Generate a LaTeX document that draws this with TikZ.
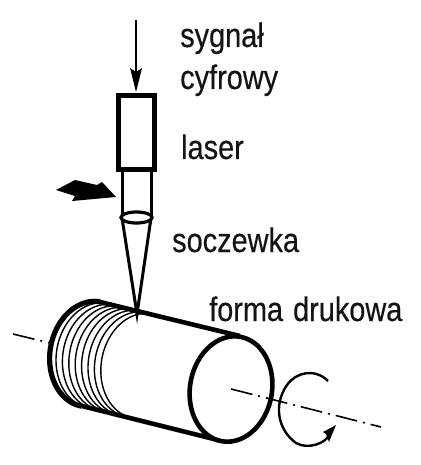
\documentclass[tikz,border=0pt]{standalone}
\usetikzlibrary{shapes.geometric}
\usepackage{fontspec}
\setmainfont[FakeStretch=0.85,FakeBold=0.35]{Liberation Sans}
\tikzset{
 lab/.style={anchor=base west,inner sep=0pt,font=\fontsize{34}{34}\selectfont,text=black!92},
 outline/.style={line width=4.6pt,draw=black},
 axisline/.style={line width=1.6pt,dash pattern=on 22pt off 6pt on 2pt off 6pt},
 endcap/.style={shift={(#1)},rotate=-10},
}
\begin{document}
\begin{tikzpicture}[x=1pt,y=-1pt]
\useasboundingbox (0,0) rectangle (420,465);
\fill[white] (0,0) rectangle (420,465);
% labels
\node[lab] (sig1) at (180,47) {sygnał};
\node[lab] (sig2) at (180,89) {cyfrowy};
\node[lab] (las) at (181,159) {laser};
\node[lab] (soc) at (172,252) {soczewka};
\node[lab] (frm) at (209,321) {forma\hspace{2pt} drukowa};
% laser
\node[draw=black,line width=5pt,minimum width=36.5pt,minimum height=74.5pt,inner sep=0pt] (laserbox) at (136.5,132.5) {};
\coordinate (sigtop) at (136,20);
\draw[line width=2.6pt] (sigtop) -- (136,75);
\fill (136,92) -- (130,68) -- (136,72) -- (142,68) -- cycle;
% tube
\coordinate (tl) at (122,172); \coordinate (tr) at (151,172);
\coordinate (ll) at (122,218); \coordinate (lr) at (151,218);
\coordinate (apex) at (137,314);
\draw[line width=3pt] (tl) -- (ll) (tr) -- (lr);
\draw[line width=3pt] (ll) -- (apex) -- (lr);
\node[draw=black,fill=white,ellipse,line width=3.2pt,minimum width=31pt,minimum height=11pt,inner sep=0pt] (lens) at (136.5,217.5) {};
% block arrow
\fill (56,190) -- (75,180) -- (97,185) -- (102,182) -- (116,197) -- (72,201) -- (75,196) -- cycle;
% axis
\coordinate (axA) at (13,334); \coordinate (axB) at (50,343);
\coordinate (axC) at (231,389); \coordinate (axD) at (381,427);
\draw[axisline] (axA) -- (axB);
% cylinder
\foreach \k in {1,...,8}{
 \draw[line width=1.4pt,endcap={91+6.4*\k,354+1.5*\k}] plot[domain=98:262,samples=40,smooth] ({41*cos(\x)},{53*sin(\x)});
}
\draw[outline,line width=5.2pt,endcap={91,354}] plot[domain=90:270,samples=50,smooth] ({41*cos(\x)},{53*sin(\x)});
\coordinate (ct) at (100,302); \coordinate (cb) at (82,406);
\draw[outline] (ct) -- (240,336);
\draw[outline] (cb) -- (222,441);
\draw[outline,fill=white,endcap={231,389}] plot[domain=0:360,samples=80,smooth] ({41*cos(\x)},{53*sin(\x)}) -- cycle;
\draw[axisline] (axC) -- (axD);
% rotation arrow
\draw[line width=2.4pt] (328,381) .. controls (315,368) and (296,372) .. (287,385) .. controls (273,405) and (278,430) .. (296,443) .. controls (308,450) and (326,443) .. (329,435);
\fill (336,425) -- (323,432) -- (326,434) -- (329,442) -- cycle;
\end{tikzpicture}
\end{document}
